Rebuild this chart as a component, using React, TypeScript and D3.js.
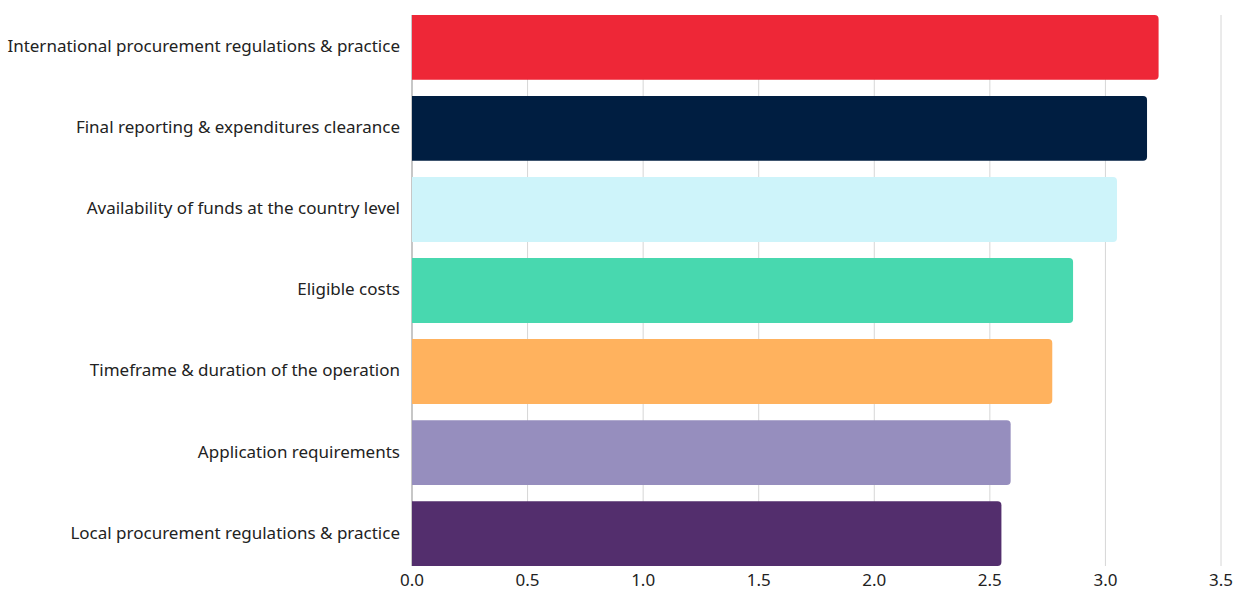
import React from "react";
import * as d3 from "d3";

const categories = [
  "International procurement regulations & practice",
  "Final reporting & expenditures clearance",
  "Availability of funds at the country level",
  "Eligible costs",
  "Timeframe & duration of the operation",
  "Application requirements",
  "Local procurement regulations & practice",
];
const values = [3.23, 3.18, 3.05, 2.86, 2.77, 2.59, 2.55];
const colors = ["#EE2737", "#001E41", "#CEF4FA", "#48D8AF", "#FFB25E", "#968EBE", "#532E6D"];
const ticks = [0, 0.5, 1, 1.5, 2, 2.5, 3, 3.5];

const W = 1243, H = 591;
const FONT = "'Noto Sans', sans-serif";

export default function App() {
  const x = d3.scaleLinear().domain([0, 3.5]).range([412, 1221]);
  const y = d3.scaleBand<string>().domain(categories).range([15, 566]).paddingInner(0.2).paddingOuter(0);
  const r = 4;
  const barPath = (v: number, c: string) => {
    const x0 = x(0), x1 = x(v), y0 = y(c)!, h = y.bandwidth();
    return `M${x0},${y0}H${x1 - r}Q${x1},${y0} ${x1},${y0 + r}V${y0 + h - r}Q${x1},${y0 + h} ${x1 - r},${y0 + h}H${x0}Z`;
  };
  return (
    <svg width={W} height={H} style={{ position: "absolute", left: 0, top: 0 }}>
      <rect width={W} height={H} fill="#fff" />
      {ticks.map((t) => (
        <line key={t} x1={x(t)} x2={x(t)} y1={15} y2={566} stroke={t === 0 ? "#b5b5b5" : "#d6d6d6"} strokeWidth={t === 0 ? 1.5 : 1} />
      ))}
      {categories.map((c, i) => (
        <path key={c} d={barPath(values[i], c)} fill={colors[i]} />
      ))}
      {categories.map((c) => (
        <text key={c} x={400} y={y(c)! + y.bandwidth() / 2 - 1} dy="0.35em" textAnchor="end" fontFamily={FONT} fontSize={17} fill="#222">
          {c}
        </text>
      ))}
      {ticks.map((t) => (
        <text key={t} x={x(t)} y={580} dy="0.35em" textAnchor="middle" fontFamily={FONT} fontSize={17} fill="#222">
          {d3.format(".1f")(t)}
        </text>
      ))}
    </svg>
  );
}
